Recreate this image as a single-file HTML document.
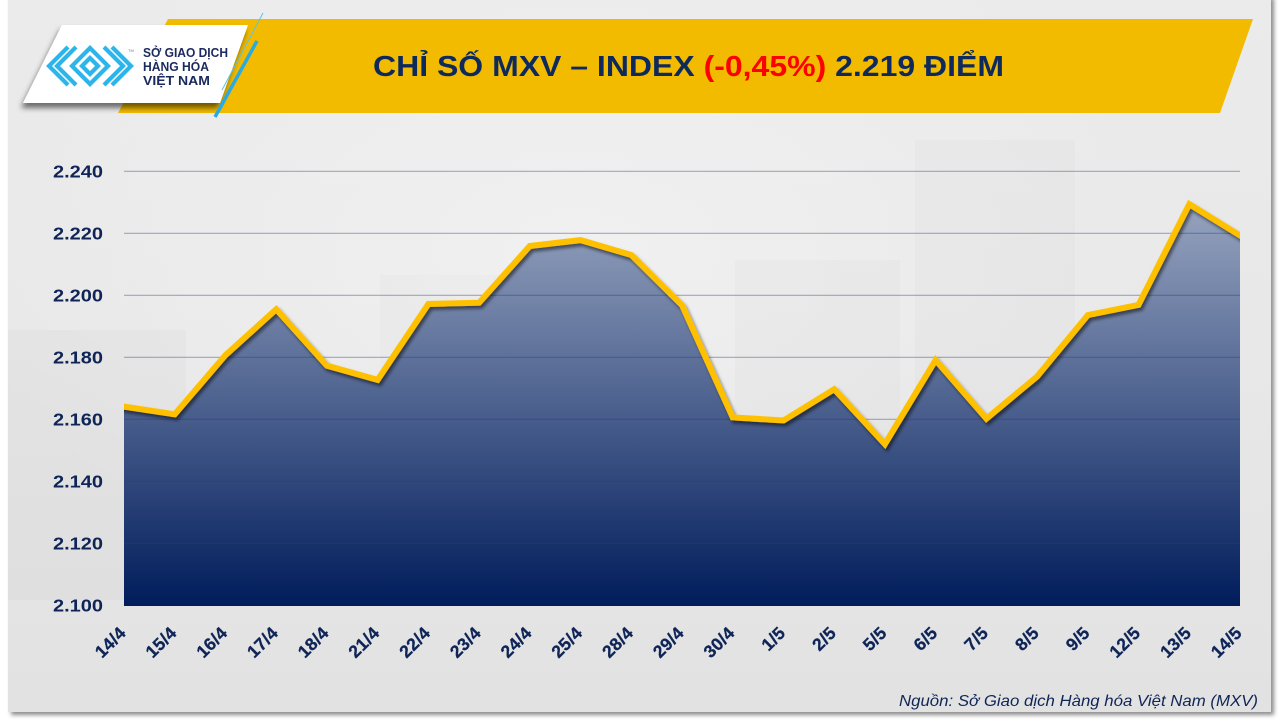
<!DOCTYPE html>
<html>
<head>
<meta charset="utf-8">
<style>
html,body{margin:0;padding:0;background:#ffffff;}
svg{display:block;}
</style>
</head>
<body>
<svg width="1280" height="720" viewBox="0 0 1280 720" xmlns="http://www.w3.org/2000/svg">
  <defs>
    <linearGradient id="bg" x1="0" y1="0" x2="0" y2="1">
      <stop offset="0" stop-color="#ebebeb"/>
      <stop offset="0.5" stop-color="#e8e8e8"/>
      <stop offset="1" stop-color="#e2e2e2"/>
    </linearGradient>
    <radialGradient id="glow" cx="0.45" cy="0.35" r="0.5">
      <stop offset="0" stop-color="#f1f1f1" stop-opacity="0.9"/>
      <stop offset="1" stop-color="#f1f1f1" stop-opacity="0"/>
    </radialGradient>
    <linearGradient id="fillg" gradientUnits="userSpaceOnUse" x1="0" y1="200" x2="0" y2="606">
      <stop offset="0" stop-color="#98a5c0"/>
      <stop offset="0.5" stop-color="#4d628f"/>
      <stop offset="1" stop-color="#001c5b"/>
    </linearGradient>
    <filter id="slideSh" x="-5%" y="-5%" width="110%" height="110%">
      <feDropShadow dx="3" dy="3" stdDeviation="2" flood-color="#000" flood-opacity="0.45"/>
    </filter>
    <filter id="cardSh" x="-20%" y="-20%" width="140%" height="160%">
      <feDropShadow dx="-2" dy="5" stdDeviation="3" flood-color="#000" flood-opacity="0.55"/>
    </filter>
    <filter id="lineSh" x="-5%" y="-20%" width="110%" height="140%">
      <feDropShadow dx="2" dy="3" stdDeviation="1.5" flood-color="#000" flood-opacity="0.5"/>
    </filter>
    <clipPath id="plotClip">
      <rect x="124" y="150" width="1116" height="456"/>
    </clipPath>
  </defs>

  <!-- slide -->
  <rect x="8" y="-5" width="1263" height="717" fill="url(#bg)" filter="url(#slideSh)"/>
  <rect x="8" y="0" width="1263" height="712" fill="url(#glow)"/>
  <!-- faint background boxes -->
  <rect x="8" y="330" width="178" height="270" fill="#000" fill-opacity="0.018"/>
  <rect x="915" y="140" width="160" height="460" fill="#000" fill-opacity="0.015"/>
  <rect x="735" y="260" width="165" height="340" fill="#000" fill-opacity="0.015"/>
  <rect x="380" y="275" width="150" height="325" fill="#000" fill-opacity="0.01"/>

  <!-- yellow banner -->
  <polygon points="168,19 1253,19 1220,113 118,113" fill="#f2bb00"/>

  <!-- white logo card -->
  <polygon points="62,25 248,25 220,103 23,103" fill="#ffffff" filter="url(#cardSh)"/>
  <!-- blue accent lines -->
  <line x1="263" y1="13" x2="222" y2="90" stroke="#5bc3ea" stroke-width="1"/>
  <line x1="257" y1="41" x2="215" y2="117" stroke="#29abe2" stroke-width="3.5"/>

  <!-- logo icon -->
  <g fill="none" stroke="#2cb5ea" stroke-width="4.2" stroke-linejoin="miter">
    <polyline points="68,47 49,66 68,85"/>
    <polyline points="76,47 57,66 76,85"/>
    <polygon points="90,48 108,66 90,84 72,66"/>
    <polygon points="90,58 98,66 90,74 82,66"/>
    <polyline points="104,47 123,66 104,85"/>
    <polyline points="112,47 131,66 112,85"/>
  </g>
  <text x="128" y="52" font-family="Liberation Sans, sans-serif" font-size="4" fill="#6a7aa0">TM</text>
  <g font-family="'Liberation Sans', sans-serif" font-weight="bold" font-size="12.5" fill="#1b2a5e">
    <text x="143" y="57" textLength="85" lengthAdjust="spacingAndGlyphs">SỞ GIAO DỊCH</text>
    <text x="143" y="71" textLength="66" lengthAdjust="spacingAndGlyphs">HÀNG HÓA</text>
    <text x="143" y="85" textLength="67" lengthAdjust="spacingAndGlyphs">VIỆT NAM</text>
  </g>

  <!-- title -->
  <text x="373" y="76" font-family="'Liberation Sans', sans-serif" font-weight="bold" font-size="29" fill="#0e2a5c" textLength="631" lengthAdjust="spacingAndGlyphs">CHỈ SỐ MXV – INDEX <tspan fill="#ff0000">(-0,45%)</tspan> 2.219 ĐIỂM</text>

  <!-- area fill -->
  <polygon fill="url(#fillg)" points="124,406.6 174.7,414.3 225.5,355.1 276.2,309.3 326.9,365.7 377.6,379.9 428.4,304.0 479.1,302.7 529.8,246.0 580.5,240.1 631.3,255.0 682,305.2 732.7,417.4 783.5,420.5 834.2,389.2 884.9,444.1 935.6,360.1 986.4,418.7 1037.1,376.5 1087.8,315.1 1138.5,304.9 1189.3,204.2 1240,235.5 1240,606 124,606"/>

  <!-- gridlines -->
  <g stroke="#2a3f6e" stroke-opacity="0.4" stroke-width="1.2">
    <line x1="124" y1="171.3" x2="1240" y2="171.3"/>
    <line x1="124" y1="233.3" x2="1240" y2="233.3"/>
    <line x1="124" y1="295.3" x2="1240" y2="295.3"/>
    <line x1="124" y1="357.3" x2="1240" y2="357.3"/>
    <line x1="124" y1="419.3" x2="1240" y2="419.3"/>
    <line x1="124" y1="481.3" x2="1240" y2="481.3"/>
    <line x1="124" y1="543.3" x2="1240" y2="543.3"/>
  </g>

  <!-- line -->
  <g clip-path="url(#plotClip)">
    <polyline fill="none" stroke="#ffc000" stroke-width="6" stroke-linejoin="miter" stroke-miterlimit="6" filter="url(#lineSh)" points="120,406 124,406.6 174.7,414.3 225.5,355.1 276.2,309.3 326.9,365.7 377.6,379.9 428.4,304.0 479.1,302.7 529.8,246.0 580.5,240.1 631.3,255.0 682,305.2 732.7,417.4 783.5,420.5 834.2,389.2 884.9,444.1 935.6,360.1 986.4,418.7 1037.1,376.5 1087.8,315.1 1138.5,304.9 1189.3,204.2 1240,235.5 1246,239.2"/>
  </g>

  <!-- y labels -->
  <g font-family="'Liberation Sans', sans-serif" font-weight="bold" font-size="17.5" fill="#0f2557" text-anchor="end">
    <text x="103" y="177.5" textLength="50" lengthAdjust="spacingAndGlyphs">2.240</text>
    <text x="103" y="239.5" textLength="50" lengthAdjust="spacingAndGlyphs">2.220</text>
    <text x="103" y="301.5" textLength="50" lengthAdjust="spacingAndGlyphs">2.200</text>
    <text x="103" y="363.5" textLength="50" lengthAdjust="spacingAndGlyphs">2.180</text>
    <text x="103" y="425.5" textLength="50" lengthAdjust="spacingAndGlyphs">2.160</text>
    <text x="103" y="487.5" textLength="50" lengthAdjust="spacingAndGlyphs">2.140</text>
    <text x="103" y="549.5" textLength="50" lengthAdjust="spacingAndGlyphs">2.120</text>
    <text x="103" y="611.5" textLength="50" lengthAdjust="spacingAndGlyphs">2.100</text>
  </g>

  <!-- x labels -->
  <g font-family="'Liberation Sans', sans-serif" font-weight="bold" font-size="17.5" fill="#0f2557" text-anchor="end" letter-spacing="0.3" stroke="#0f2557" stroke-width="0.3">
    <text transform="translate(127,634) rotate(-45)">14/4</text>
    <text transform="translate(177.7,634) rotate(-45)">15/4</text>
    <text transform="translate(228.5,634) rotate(-45)">16/4</text>
    <text transform="translate(279.2,634) rotate(-45)">17/4</text>
    <text transform="translate(329.9,634) rotate(-45)">18/4</text>
    <text transform="translate(380.6,634) rotate(-45)">21/4</text>
    <text transform="translate(431.4,634) rotate(-45)">22/4</text>
    <text transform="translate(482.1,634) rotate(-45)">23/4</text>
    <text transform="translate(532.8,634) rotate(-45)">24/4</text>
    <text transform="translate(583.5,634) rotate(-45)">25/4</text>
    <text transform="translate(634.3,634) rotate(-45)">28/4</text>
    <text transform="translate(685,634) rotate(-45)">29/4</text>
    <text transform="translate(735.7,634) rotate(-45)">30/4</text>
    <text transform="translate(786.5,634) rotate(-45)">1/5</text>
    <text transform="translate(837.2,634) rotate(-45)">2/5</text>
    <text transform="translate(887.9,634) rotate(-45)">5/5</text>
    <text transform="translate(938.6,634) rotate(-45)">6/5</text>
    <text transform="translate(989.4,634) rotate(-45)">7/5</text>
    <text transform="translate(1040.1,634) rotate(-45)">8/5</text>
    <text transform="translate(1090.8,634) rotate(-45)">9/5</text>
    <text transform="translate(1141.5,634) rotate(-45)">12/5</text>
    <text transform="translate(1192.3,634) rotate(-45)">13/5</text>
    <text transform="translate(1243,634) rotate(-45)">14/5</text>
  </g>

  <!-- source -->
  <text x="899" y="706" font-family="'Liberation Sans', sans-serif" font-style="italic" font-size="16" fill="#0f2557" textLength="359" lengthAdjust="spacingAndGlyphs">Nguồn: Sở Giao dịch Hàng hóa Việt Nam (MXV)</text>
</svg>
</body>
</html>
